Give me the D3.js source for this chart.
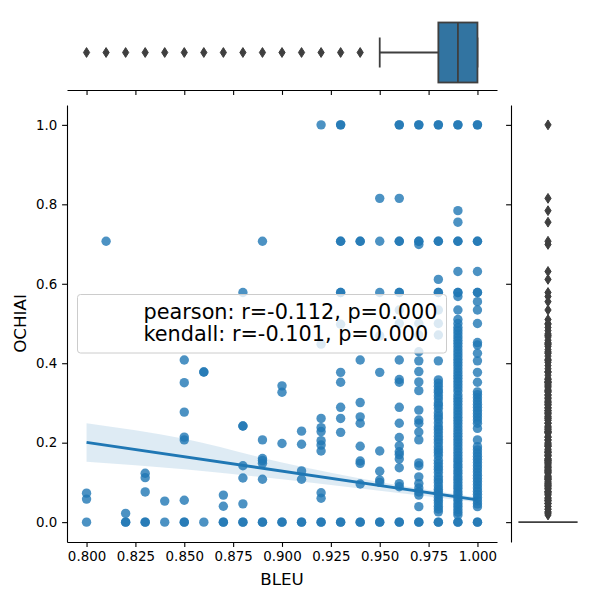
<!DOCTYPE html>
<html>
<head>
<meta charset="utf-8">
<script src="https://cdn.jsdelivr.net/npm/d3@7"></script>
<style>
  body { margin: 0; background: #fff; }
  text { font-family: "DejaVu Sans", sans-serif; }
</style>
</head>
<body>
<div id="chart"></div>
<script>
// BLEU levels (x) and the OCHIAI values seen at each level (y)
var bleuLevels = [0.80, 0.81, 0.82, 0.83, 0.84, 0.85, 0.86, 0.87, 0.88, 0.89, 0.90,
                  0.91, 0.92, 0.93, 0.94, 0.95, 0.96, 0.97, 0.98, 0.99, 1.00];

var c080 = [0, 0.058, 0.073];
var c081 = [0.707];
var c082 = [0, 0, 0.022];
var c083 = [0, 0, 0.076, 0.112, 0.123];
var c084 = [0, 0.053];
var c085 = [0, 0, 0.055, 0.207, 0.214, 0.277, 0.351, 0.408];
var c086 = [0, 0.378, 0.378];
var c087 = [0, 0, 0.040, 0.068];
var c088 = [0, 0, 0.046, 0.111, 0.142, 0.242, 0.242, 0.578];
var c089 = [0, 0, 0.108, 0.148, 0.155, 0.160, 0.207, 0.707];
var c090 = [0, 0, 0.198, 0.327, 0.343];
var c091 = [0, 0, 0.108, 0.129, 0.196, 0.229];
var c092 = [0, 0, 0.060, 0.074, 0.179, 0.194, 0.205, 0.228, 0.238, 0.261, 0.448, 1.0];
var c093 = [0, 0, 0.226, 0.261, 0.289, 0.352, 0.377, 0.498, 0.578, 0.578, 0.707, 0.707, 1.0, 1.0];
var c094 = [0, 0, 0.096, 0.148, 0.154, 0.191, 0.249, 0.265, 0.301, 0.408, 0.707, 0.707];
var c095 = [0, 0, 0.100, 0.106, 0.128, 0.179, 0.377, 0.469, 0.578, 0.707, 0.815];
var c096 = [0, 0, 0.089, 0.097, 0.137, 0.159, 0.170, 0.177, 0.192, 0.213, 0.249, 0.289, 0.352,
            0.359, 0.408, 0.500, 0.534, 0.578, 0.578, 0.707, 0.707, 0.815, 1.0, 1.0];
var c097 = [0, 0, 0.039, 0.068, 0.076, 0.086, 0.097, 0.114, 0.142, 0.149, 0.207, 0.227, 0.249,
            0.257, 0.282, 0.331, 0.353, 0.379, 0.406, 0.429, 0.471, 0.500, 0.699, 0.707, 0.707, 1.0, 1.0];
var c098 = [0, 0, 0.026, 0.033, 0.040, 0.048, 0.055, 0.062, 0.070, 0.077, 0.083, 0.091, 0.100,
            0.107, 0.115, 0.125, 0.133, 0.140, 0.148, 0.156, 0.167, 0.175, 0.182, 0.190, 0.200,
            0.208, 0.216, 0.225, 0.233, 0.240, 0.250, 0.260, 0.267, 0.275, 0.286, 0.294, 0.300,
            0.310, 0.318, 0.327, 0.333, 0.342, 0.350, 0.358, 0.406, 0.471, 0.500, 0.534, 0.578,
            0.578, 0.611, 0.707, 0.707, 1.0, 1.0];
var c099 = [0, 0, 0.018, 0.025, 0.032, 0.040, 0.047, 0.055, 0.062, 0.070, 0.077, 0.085, 0.092,
            0.100, 0.108, 0.115, 0.123, 0.130, 0.138, 0.145, 0.153, 0.160, 0.168, 0.176, 0.184,
            0.192, 0.200, 0.208, 0.216, 0.224, 0.232, 0.240, 0.248, 0.256, 0.264, 0.272, 0.280,
            0.288, 0.296, 0.304, 0.312, 0.320, 0.330, 0.338, 0.346, 0.354, 0.362, 0.370, 0.378,
            0.386, 0.394, 0.402, 0.410, 0.418, 0.426, 0.434, 0.442, 0.450, 0.458, 0.466, 0.474,
            0.482, 0.490, 0.500, 0.510, 0.534, 0.568, 0.578, 0.578, 0.631, 0.707, 0.707, 0.755,
            0.784, 1.0, 1.0];
var c100 = [0, 0, 0.039, 0.046, 0.054, 0.062, 0.070, 0.078, 0.086, 0.094, 0.102, 0.110, 0.118,
            0.126, 0.134, 0.142, 0.150, 0.158, 0.166, 0.174, 0.182, 0.190, 0.207, 0.236, 0.249,
            0.257, 0.265, 0.273, 0.281, 0.289, 0.297, 0.305, 0.313, 0.321, 0.328, 0.352, 0.377,
            0.406, 0.425, 0.446, 0.452, 0.500, 0.534, 0.555, 0.578, 0.578, 0.631, 0.707, 0.707,
            1.0, 1.0];

var ochiaiColumns = [c080, c081, c082, c083, c084, c085, c086, c087, c088, c089, c090,
                     c091, c092, c093, c094, c095, c096, c097, c098, c099, c100];

// regression fit and its confidence band
var fitX = [0.80, 1.00];
var fitY = [0.201, 0.056];
var ciX = [0.80, 0.85, 0.90, 0.95, 1.00];
var ciLow = [0.152, 0.133, 0.108, 0.079, 0.050];
var ciHigh = [0.249, 0.210, 0.150, 0.101, 0.062];

// marginal box stats: [low whisker, q1, median, q3, high whisker]
var bleuBox = [0.95, 0.98, 0.99, 1.00, 1.00];
var bleuOutliers = [0.80, 0.81, 0.82, 0.83, 0.84, 0.85, 0.86, 0.87, 0.88, 0.89, 0.90, 0.91, 0.92, 0.93, 0.94];
var ochiaiBox = [0, 0, 0, 0, 0];

var xTicks = [0.800, 0.825, 0.850, 0.875, 0.900, 0.925, 0.950, 0.975, 1.000];
var yTicks = [0.0, 0.2, 0.4, 0.6, 0.8, 1.0];
var legendLines = ["pearson: r=-0.112, p=0.000", "kendall: r=-0.101, p=0.000"];

// every points as {x, y}
var points = [];
bleuLevels.forEach(function(b, i) {
    ochiaiColumns[i].forEach(function(v) { points.push({ x: b, y: v }); });
});
var ochiaiOutliers = Array.from(new Set(points.map(function(d) { return d.y; })))
    .filter(function(v) { return v > 0; });

var W = 600, H = 600;
var main = { left: 67, right: 497, top: 105, bottom: 542 };
var topMarg = { top: 15, bottom: 90 };
var rightMarg = { left: 511, right: 585 };

var svg = d3.select("#chart").append("svg")
    .attr("width", W).attr("height", H);

var x = d3.scaleLinear().domain([0.79, 1.01]).range([main.left, main.right]);
var y = d3.scaleLinear().domain([-0.05, 1.05]).range([main.bottom, main.top]);
var topPos = d3.scaleLinear().domain([-0.5, 0.5]).range([topMarg.bottom, topMarg.top]);
var rightPos = d3.scaleLinear().domain([-0.5, 0.5]).range([rightMarg.left, rightMarg.right]);

var blue = "#1f77b4", boxBlue = "#3274a1", gray = "#3f3f3f";

// scatter
svg.append("g").selectAll("circle")
    .data(points)
    .enter().append("circle")
    .attr("cx", function(d) { return x(d.x); })
    .attr("cy", function(d) { return y(d.y); })
    .attr("r", 4.7)
    .attr("fill", blue)
    .attr("fill-opacity", 0.8);

// confidence band + fit line
var band = d3.area()
    .x(function(d, i) { return x(ciX[i]); })
    .y0(function(d, i) { return y(ciLow[i]); })
    .y1(function(d, i) { return y(ciHigh[i]); })
    .curve(d3.curveMonotoneX);
svg.append("path")
    .attr("d", band(ciX))
    .attr("fill", blue).attr("fill-opacity", 0.15);

var fitLine = d3.line()
    .x(function(d, i) { return x(fitX[i]); })
    .y(function(d, i) { return y(fitY[i]); });
svg.append("path")
    .attr("d", fitLine(fitX))
    .attr("fill", "none").attr("stroke", blue).attr("stroke-width", 2.8);

// axes
function styleAxis(g) {
    g.selectAll(".domain").attr("stroke", "#000").attr("stroke-width", 1.1);
    g.selectAll(".tick line").attr("stroke", "#000").attr("stroke-width", 1.1);
    g.selectAll(".tick text").attr("fill", "#000")
        .style("font-size", "13.4px").style("font-family", "DejaVu Sans");
}

var xAxis = svg.append("g")
    .attr("transform", "translate(0," + main.bottom + ")")
    .call(d3.axisBottom(x).tickValues(xTicks).tickFormat(d3.format(".3f"))
        .tickSizeInner(4.9).tickSizeOuter(0).tickPadding(4.9));
xAxis.call(styleAxis);

var yAxis = svg.append("g")
    .attr("transform", "translate(" + main.left + ",0)")
    .call(d3.axisLeft(y).tickValues(yTicks).tickFormat(d3.format(".1f"))
        .tickSizeInner(4.9).tickSizeOuter(0).tickPadding(4.9));
yAxis.call(styleAxis);

var topAxis = svg.append("g")
    .attr("transform", "translate(0," + topMarg.bottom + ")")
    .call(d3.axisBottom(x).tickValues(xTicks).tickFormat("")
        .tickSizeInner(4.9).tickSizeOuter(0));
topAxis.call(styleAxis);

var rightAxis = svg.append("g")
    .attr("transform", "translate(" + rightMarg.left + ",0)")
    .call(d3.axisLeft(y).tickValues(yTicks).tickFormat("")
        .tickSizeInner(4.9).tickSizeOuter(0));
rightAxis.call(styleAxis);

// axis labels
svg.append("text")
    .attr("x", (main.left + main.right) / 2).attr("y", 585)
    .attr("text-anchor", "middle").style("font-size", "16.7px")
    .text("BLEU");
svg.append("text")
    .attr("transform", "translate(25.5," + (main.top + main.bottom) / 2 + ") rotate(-90)")
    .attr("text-anchor", "middle").style("font-size", "16.7px")
    .text("OCHIAI");

// diamond marker for fliers
var diamond = "M0,-4.9L3.1,0L0,4.9L-3.1,0Z";

// top marginal boxplot (BLEU)
var tb = svg.append("g");
var half = 0.4, capHalf = 0.2;
tb.append("line")
    .attr("x1", x(bleuBox[0])).attr("x2", x(bleuBox[1]))
    .attr("y1", topPos(0)).attr("y2", topPos(0));
tb.append("line")
    .attr("x1", x(bleuBox[3])).attr("x2", x(bleuBox[4]))
    .attr("y1", topPos(0)).attr("y2", topPos(0));
tb.append("line")
    .attr("x1", x(bleuBox[0])).attr("x2", x(bleuBox[0]))
    .attr("y1", topPos(-capHalf)).attr("y2", topPos(capHalf));
tb.append("line")
    .attr("x1", x(bleuBox[4])).attr("x2", x(bleuBox[4]))
    .attr("y1", topPos(-capHalf)).attr("y2", topPos(capHalf));
tb.append("rect")
    .attr("x", x(bleuBox[1])).attr("width", x(bleuBox[3]) - x(bleuBox[1]))
    .attr("y", topPos(half)).attr("height", topPos(-half) - topPos(half))
    .attr("fill", boxBlue);
tb.append("line")
    .attr("x1", x(bleuBox[2])).attr("x2", x(bleuBox[2]))
    .attr("y1", topPos(half)).attr("y2", topPos(-half));
tb.selectAll("line, rect").attr("stroke", gray).attr("stroke-width", 1.8);
tb.selectAll("path").data(bleuOutliers).enter().append("path")
    .attr("d", diamond)
    .attr("transform", function(d) { return "translate(" + x(d) + "," + topPos(0) + ")"; })
    .attr("fill", gray).attr("stroke", gray).attr("stroke-width", 1);

// right marginal boxplot (OCHIAI)
var rb = svg.append("g");
rb.append("line")
    .attr("x1", rightPos(0)).attr("x2", rightPos(0))
    .attr("y1", y(ochiaiBox[0])).attr("y2", y(ochiaiBox[1]));
rb.append("line")
    .attr("x1", rightPos(0)).attr("x2", rightPos(0))
    .attr("y1", y(ochiaiBox[3])).attr("y2", y(ochiaiBox[4]));
rb.append("rect")
    .attr("x", rightPos(-half)).attr("width", rightPos(half) - rightPos(-half))
    .attr("y", y(ochiaiBox[3])).attr("height", y(ochiaiBox[1]) - y(ochiaiBox[3]))
    .attr("fill", boxBlue);
rb.append("line")
    .attr("x1", rightPos(-half)).attr("x2", rightPos(half))
    .attr("y1", y(ochiaiBox[2])).attr("y2", y(ochiaiBox[2]));
rb.selectAll("line, rect").attr("stroke", gray).attr("stroke-width", 1.8);
rb.selectAll("path").data(ochiaiOutliers).enter().append("path")
    .attr("d", diamond)
    .attr("transform", function(d) { return "translate(" + rightPos(0) + "," + y(d) + ")"; })
    .attr("fill", gray).attr("stroke", gray).attr("stroke-width", 1);

// legend box with the correlation text
var lg = svg.append("g");
lg.append("rect")
    .attr("x", 77.5).attr("y", 294.5).attr("width", 369).attr("height", 58.5)
    .attr("rx", 3).attr("ry", 3)
    .attr("fill", "#fff").attr("fill-opacity", 0.8)
    .attr("stroke", "#cccccc").attr("stroke-width", 1);
lg.selectAll("text").data(legendLines).enter().append("text")
    .attr("x", 143.5)
    .attr("y", function(d, i) { return 318.5 + i * 22.5; })
    .style("font-size", "20.8px")
    .attr("fill", "#000")
    .text(function(d) { return d; });
</script>
</body>
</html>
